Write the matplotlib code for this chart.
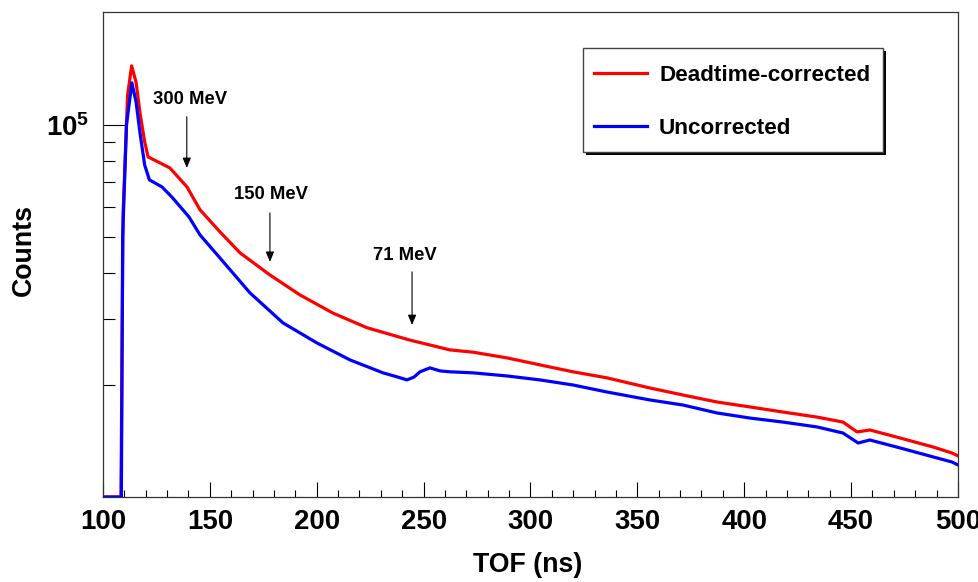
import matplotlib
matplotlib.use("Agg")
from matplotlib import pyplot
from matplotlib.ticker import FixedLocator, MultipleLocator, NullFormatter
from matplotlib.patches import Rectangle

# time of flight (ns) and counts
red_tof = [100, 108.4, 109.4, 111.5, 113.4, 115.5, 117.3, 119.5, 121.1, 126.7, 131.3, 139.3,
           145.4, 154.7, 164.1, 178.1, 192.2, 207.6, 223.5, 243.6, 262.3, 273.1, 289.0,
           304.4, 319.9, 335.8, 355.9, 371.3, 387.3, 402.7, 418.1, 434.0, 446.2, 452.8,
           458.8, 472.9, 488.3, 497.2, 500]
red_counts = [1e4, 1e4, 58000, 120000, 144000, 130000, 107700, 90000, 82000, 79000, 76600, 68100,
              59100, 51600, 45300, 39500, 34900, 31200, 28500, 26400, 24850, 24500, 23650,
              22650, 21700, 20900, 19630, 18800, 18000, 17460, 16920, 16400, 15900, 14960,
              15140, 14410, 13630, 13130, 12900]

blue_tof = [100, 108.6, 109.2, 111.0, 113.5, 115.5, 117.3, 119.5, 121.7, 127.6, 132.2, 140.2,
            145.4, 154.7, 168.8, 184.2, 200.1, 215.6, 231.0, 238.0, 242.2, 245.5, 248.3, 253.0,
            257.7, 262.3, 273.1, 289.0, 304.4, 319.9, 335.8, 355.9, 371.3, 387.3, 402.7,
            418.1, 434.0, 446.2, 453.3, 458.8, 472.9, 488.3, 497.2, 500]
blue_counts = [1e4, 1e4, 50000, 100000, 129700, 115000, 95170, 78000, 71150, 68100, 64000, 56600,
               50600, 43900, 35340, 29370, 25940, 23350, 21560, 21000, 20640, 21000, 21700, 22230,
               21820, 21700, 21560, 21150, 20640, 20000, 19150, 18230, 17670, 16820, 16300,
               15900, 15430, 14860, 13970, 14230, 13550, 12820, 12420, 12200]

series_names = ["Deadtime-corrected", "Uncorrected"]

energy_labels = ["300 MeV", "150 MeV", "71 MeV"]
energy_tof = [139.2, 178.1, 244.6]

x_ticks = [100, 150, 200, 250, 300, 350, 400, 450, 500]

FONT = "Liberation Sans"
pyplot.rcParams["font.family"] = FONT
pyplot.rcParams["font.weight"] = "bold"
pyplot.rcParams["mathtext.fontset"] = "custom"
pyplot.rcParams["mathtext.rm"] = FONT + ":bold"
pyplot.rcParams["mathtext.bf"] = FONT + ":bold"
pyplot.rcParams["mathtext.it"] = FONT + ":bold"

W, H = 979, 582
fig = pyplot.figure(figsize=(W / 100, H / 100), dpi=100)
ax = fig.add_axes([0.1052, 0.146, 0.8733, 0.8334])

ax.plot(red_tof, red_counts, color="#ff0000", linewidth=2.3, label=series_names[0], zorder=3)
ax.plot(blue_tof, blue_counts, color="#0000ff", linewidth=2.3, label=series_names[1], zorder=3)

ax.set_yscale("log")
ax.set_xlim(100, 500)
ax.set_ylim(1e4, 2.01e5)

ax.xaxis.set_major_locator(FixedLocator(x_ticks))
ax.xaxis.set_minor_locator(MultipleLocator(10))
ax.set_xticklabels([str(t) for t in x_ticks])
ax.yaxis.set_major_locator(FixedLocator([1e5]))
ax.set_yticklabels([r"$10^{5}$"])
ax.yaxis.set_minor_locator(FixedLocator([2e4, 3e4, 4e4, 5e4, 6e4, 7e4, 8e4, 9e4]))
ax.yaxis.set_minor_formatter(NullFormatter())

ax.tick_params(axis="x", which="major", direction="in", length=10.8, width=0.8,
               labelsize=19.9, pad=8.4, colors="black")
ax.tick_params(axis="x", which="minor", direction="in", length=5.4, width=0.8)
ax.tick_params(axis="y", which="major", direction="in", length=15.8, width=0.8,
               labelsize=19.9, pad=10)
ax.tick_params(axis="y", which="minor", direction="in", length=8.6, width=0.8)
for side in ax.spines.values():
    side.set_linewidth(0.9)
    side.set_color("#333333")

ax.set_xlabel("TOF (ns)", fontsize=19.3, fontweight="bold")
ax.set_ylabel("Counts", fontsize=19.3, fontweight="bold")
ax.xaxis.set_label_coords(0.497, -0.113)
ax.yaxis.set_label_coords(-0.077, 0.509)

# energy markers
tip_counts = [76600, 42850, 28990]
tail_counts = [105100, 58000, 40270]
text_pos = [(140.7, 116700), (178.6, 64860), (241.3, 44460)]
for label, tof, tip, tail, pos in zip(energy_labels, energy_tof, tip_counts, tail_counts, text_pos):
    ax.annotate("", xy=(tof, tip), xytext=(tof, tail),
                arrowprops=dict(arrowstyle="-|>,head_length=0.6,head_width=0.25",
                                color="black", lw=0.8, mutation_scale=10, shrinkA=0, shrinkB=0))
    ax.text(pos[0], pos[1], label, fontsize=13.3, fontweight="bold",
            ha="center", va="center")

# ROOT-like legend box with a solid shadow
box_x0, box_y0, box_x1, box_y1 = 583, 48, 883, 152
shadow = Rectangle(((box_x0 + 3) / W, 1 - (box_y1 + 3) / H), (box_x1 - box_x0) / W,
                   (box_y1 - box_y0) / H, transform=fig.transFigure,
                   facecolor="black", edgecolor="none", zorder=5.5)
frame = Rectangle((box_x0 / W, 1 - box_y1 / H), (box_x1 - box_x0) / W,
                  (box_y1 - box_y0) / H, transform=fig.transFigure,
                  facecolor="white", edgecolor="#444444", linewidth=1.0, zorder=5.6)
ax.add_artist(shadow)
ax.add_artist(frame)

leg = ax.legend(loc="upper left", bbox_to_anchor=(box_x0 / W, 1 - (box_y0 + 6) / H),
                bbox_transform=fig.transFigure, borderaxespad=0,
                prop={"family": FONT, "weight": "bold", "size": 16.2},
                frameon=False, handlelength=2.35, handletextpad=0.53,
                labelspacing=1.42, borderpad=0.5)
leg.set_zorder(6)

fig.savefig("out.png", dpi=100)
